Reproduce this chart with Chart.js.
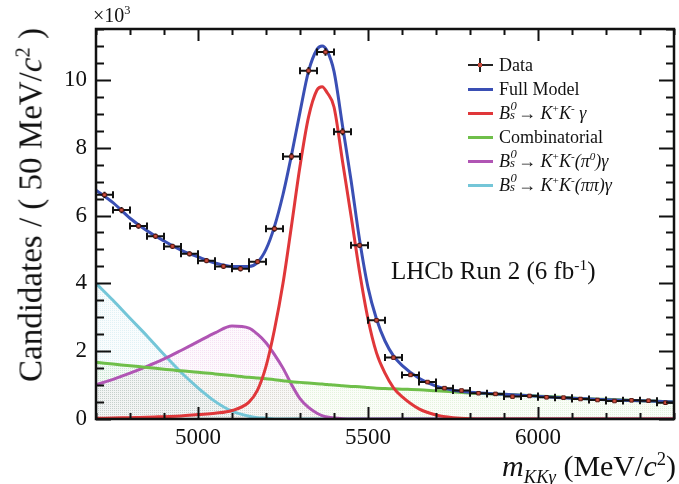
<!DOCTYPE html>
<html>
<head>
<meta charset="utf-8">
<script src="https://cdn.jsdelivr.net/npm/chart.js@4.4.0/dist/chart.umd.min.js"></script>
<style>
  html, body { margin: 0; padding: 0; background: #fff; }
  #wrap { position: relative; width: 679px; height: 484px; font-family: "Liberation Serif", "Times New Roman", serif; color: #111; }
  #chart { position: absolute; left: 0; top: 0; }
  .lbl { position: absolute; white-space: nowrap; line-height: 1; }
  .lbl sup, .lbl sub, .row sup { font-size: 0.62em; line-height: 0; }
  .legend { position: absolute; left: 466px; top: 53px; font-size: 18px; }
  .row { position: absolute; left: 0; height: 24px; white-space: nowrap; line-height: 24px; }
  .row .s { position: absolute; left: 2px; top: 11px; width: 25px; height: 3px; }
  .row .t { position: absolute; left: 33px; top: 0; }
  .cross-h { position: absolute; left: 2px; top: 11px; width: 25px; height: 2px; background: #222; }
  .cross-v { position: absolute; left: 13px; top: 5px; width: 2px; height: 14px; background: #222; }
  .cross-d { position: absolute; left: 12px; top: 10px; width: 4px; height: 4px; background: #c84a3c; }
  .ss { display: inline-block; position: relative; width: 0.45em; height: 1em; font-style: italic; line-height: 1; }
  .ss .u { position: absolute; left: 0.03em; top: -0.12em; font-size: 0.7em; line-height: 1; }
  .ss .d { position: absolute; left: 0; top: 0.6em; font-size: 0.7em; line-height: 1; }
</style>
</head>
<body>
<div id="wrap">
  <canvas id="chart" width="679" height="484"></canvas>

  <div class="lbl" style="left:93px; top:5px; font-size:20px;">&times;10<sup>3</sup></div>

  <div class="lbl" style="left:31px; top:205px; font-size:33px; transform: translate(-50%, -50%) rotate(-90deg);">Candidates / ( 50 MeV/<i>c</i><sup>2</sup> )</div>

  <div class="lbl" style="right:3px; top:451px; font-size:30px;"><i>m</i><sub><i>KK&gamma;</i></sub> (MeV/<i>c</i><sup>2</sup>)</div>

  <div class="lbl" style="left:391px; top:258px; font-size:25px;">LHCb Run 2 (6 fb<sup>-1</sup>)</div>

  <div class="legend">
    <div class="row" style="top:0px;"><span class="cross-h"></span><span class="cross-v"></span><span class="cross-d"></span><span class="t">Data</span></div>
    <div class="row" style="top:24px;"><span class="s" style="background:#3a4fb4;"></span><span class="t">Full Model</span></div>
    <div class="row" style="top:48px;"><span class="s" style="background:#e0373a;"></span><span class="t"><i>B</i><span class="ss"><span class="u">0</span><span class="d">s</span></span>&rarr; <i>K</i><sup>+</sup><i>K</i><sup>-</sup> <i>&gamma;</i></span></div>
    <div class="row" style="top:72px;"><span class="s" style="background:#6fbf4a;"></span><span class="t">Combinatorial</span></div>
    <div class="row" style="top:96px;"><span class="s" style="background:#b055b4;"></span><span class="t"><i>B</i><span class="ss"><span class="u">0</span><span class="d">s</span></span>&rarr; <i>K</i><sup>+</sup><i>K</i><sup>-</sup><i>(&pi;<sup>0</sup>)&gamma;</i></span></div>
    <div class="row" style="top:120px;"><span class="s" style="background:#74c6d8;"></span><span class="t"><i>B</i><span class="ss"><span class="u">0</span><span class="d">s</span></span>&rarr; <i>K</i><sup>+</sup><i>K</i><sup>-</sup><i>(&pi;&pi;)&gamma;</i></span></div>
  </div>
</div>

<script>
// data points, 50 MeV bins (counts in units of 10^3)
const binCenters = [4725, 4775, 4825, 4875, 4925, 4975, 5025, 5075, 5125, 5175,
  5225, 5275, 5325, 5375, 5425, 5475, 5525, 5575, 5625, 5675,
  5725, 5775, 5825, 5875, 5925, 5975, 6025, 6075, 6125, 6175,
  6225, 6275, 6325, 6375];
const dataCounts = [6.61, 6.16, 5.69, 5.39, 5.09, 4.87, 4.67, 4.50, 4.43, 4.64,
  5.61, 7.74, 10.27, 10.82, 8.47, 5.12, 2.91, 1.81, 1.30, 1.09,
  0.91, 0.84, 0.76, 0.74, 0.66, 0.68, 0.64, 0.63, 0.59, 0.56,
  0.53, 0.55, 0.54, 0.48];
const dataErr = [0.09, 0.09, 0.08, 0.08, 0.08, 0.08, 0.08, 0.08, 0.08, 0.08,
  0.09, 0.10, 0.11, 0.11, 0.10, 0.08, 0.06, 0.05, 0.04, 0.04,
  0.04, 0.04, 0.03, 0.03, 0.03, 0.03, 0.03, 0.03, 0.03, 0.03,
  0.03, 0.03, 0.03, 0.03];
const binHalfWidth = 25;

// fit curves sampled at these masses
const curveMass = [4700, 4750, 4800, 4850, 4900, 4950, 5000, 5050, 5100, 5150,
  5175, 5200, 5225, 5250, 5275, 5300, 5325, 5350, 5365, 5380,
  5400, 5425, 5450, 5475, 5500, 5525, 5550, 5575, 5600, 5650,
  5700, 5750, 5800, 5900, 6000, 6100, 6200, 6300, 6400];
const fullModel = [6.75, 6.38, 5.92, 5.55, 5.25, 4.98, 4.78, 4.60, 4.50, 4.50,
  4.62, 5.00, 5.68, 6.62, 7.78, 9.05, 10.25, 10.90, 11.00, 10.85,
  10.25, 8.65, 7.05, 5.30, 3.88, 2.95, 2.30, 1.86, 1.58, 1.20,
  0.97, 0.85, 0.79, 0.73, 0.67, 0.61, 0.57, 0.54, 0.50];
const signalKKg = [0.02, 0.03, 0.04, 0.05, 0.07, 0.09, 0.13, 0.17, 0.25, 0.50,
  0.85, 1.55, 2.64, 4.00, 5.70, 7.45, 8.90, 9.70, 9.80, 9.62,
  9.20, 7.60, 6.00, 4.35, 2.95, 1.95, 1.35, 0.92, 0.66, 0.30,
  0.12, 0.04, 0.01, 0, 0, 0, 0, 0, 0];
const combinatorial = [1.67, 1.62, 1.57, 1.52, 1.47, 1.42, 1.38, 1.33, 1.28, 1.23,
  1.21, 1.19, 1.16, 1.13, 1.10, 1.08, 1.06, 1.04, 1.03, 1.02,
  1.00, 0.98, 0.96, 0.95, 0.93, 0.91, 0.90, 0.89, 0.88, 0.86,
  0.83, 0.80, 0.77, 0.73, 0.68, 0.62, 0.58, 0.54, 0.50];
const pi0Bkg = [1.01, 1.17, 1.35, 1.55, 1.77, 2.02, 2.28, 2.54, 2.74, 2.68,
  2.50, 2.25, 1.90, 1.50, 1.02, 0.60, 0.34, 0.17, 0.10, 0.06,
  0.03, 0.01, 0, 0, 0, 0, 0, 0, 0, 0,
  0, 0, 0, 0, 0, 0, 0, 0, 0];
const pipiBkg = [4.00, 3.50, 2.97, 2.45, 1.90, 1.38, 0.92, 0.52, 0.23, 0.08,
  0.04, 0.02, 0, 0, 0, 0, 0, 0, 0, 0,
  0, 0, 0, 0, 0, 0, 0, 0, 0, 0,
  0, 0, 0, 0, 0, 0, 0, 0, 0];

const xMajorTicks = [5000, 5500, 6000];
const yMajorTicks = [0, 2, 4, 6, 8, 10];

const FONT = '"Liberation Serif", "Times New Roman", serif';

// light dotted fill, close to ROOT's pattern fills
function dotPattern(r, g, b) {
  const c = document.createElement("canvas");
  c.width = 2; c.height = 2;
  const x = c.getContext("2d");
  x.fillStyle = `rgba(${r},${g},${b},0.035)`;
  x.fillRect(0, 0, 2, 2);
  x.fillStyle = `rgba(${r},${g},${b},0.15)`;
  x.fillRect(0, 0, 1, 1);
  return x.createPattern(c, "repeat");
}

function toPoints(ys) {
  return curveMass.map((m, i) => ({ x: m, y: ys[i] }));
}

function curve(label, ys, color, order) {
  return {
    label: label,
    data: toPoints(ys),
    borderColor: color,
    borderWidth: 3,
    pointRadius: 0,
    cubicInterpolationMode: "monotone",
    fill: false,
    order: order,
  };
}

// shaded area under a component, drawn below every line
function area(ys, pattern, order) {
  return {
    data: toPoints(ys),
    borderWidth: 0,
    borderColor: "transparent",
    pointRadius: 0,
    cubicInterpolationMode: "monotone",
    fill: "origin",
    backgroundColor: pattern,
    order: order,
  };
}

// ROOT-style frame with inward major/minor ticks
const frameTicks = {
  id: "frameTicks",
  afterDatasetsDraw(chart) {
    const { ctx, chartArea: a, scales } = chart;
    const xs = scales.x, ys = scales.y;
    ctx.save();
    ctx.strokeStyle = "#111";
    ctx.lineWidth = 2;
    ctx.beginPath();
    for (let v = 4700; v <= 6400; v += 100) {
      const px = Math.round(xs.getPixelForValue(v)) + 0.5;
      const len = v % 500 === 0 ? 12 : 6;
      ctx.moveTo(px, a.bottom); ctx.lineTo(px, a.bottom - len);
      ctx.moveTo(px, a.top); ctx.lineTo(px, a.top + len);
    }
    for (let v = 0; v <= 11.5; v += 0.5) {
      const py = Math.round(ys.getPixelForValue(v)) + 0.5;
      const len = v % 2 === 0 ? 15 : 8;
      ctx.moveTo(a.left, py); ctx.lineTo(a.left + len, py);
      ctx.moveTo(a.right, py); ctx.lineTo(a.right - len, py);
    }
    ctx.stroke();
    ctx.lineWidth = 2.5;
    ctx.strokeRect(a.left, a.top, a.right - a.left, a.bottom - a.top);
    ctx.restore();
  },
};

// horizontal bin-width bars and vertical errors under the data markers
const errorBars = {
  id: "errorBars",
  beforeDatasetDraw(chart, args) {
    if (args.index !== 0) return;
    const { ctx, scales } = chart;
    ctx.save();
    ctx.strokeStyle = "#111";
    ctx.lineWidth = 2;
    ctx.beginPath();
    binCenters.forEach((m, i) => {
      const x0 = scales.x.getPixelForValue(m - binHalfWidth);
      const x1 = scales.x.getPixelForValue(m + binHalfWidth);
      const xc = scales.x.getPixelForValue(m);
      const y = scales.y.getPixelForValue(dataCounts[i]);
      const yl = scales.y.getPixelForValue(dataCounts[i] - dataErr[i]);
      const yh = scales.y.getPixelForValue(dataCounts[i] + dataErr[i]);
      ctx.moveTo(x0, y); ctx.lineTo(x1, y);
      ctx.moveTo(x0, y - 3.5); ctx.lineTo(x0, y + 3.5);
      ctx.moveTo(x1, y - 3.5); ctx.lineTo(x1, y + 3.5);
      ctx.moveTo(xc, yh); ctx.lineTo(xc, yl);
    });
    ctx.stroke();
    ctx.restore();
  },
};

const ctx = document.getElementById("chart").getContext("2d");
new Chart(ctx, {
  type: "line",
  data: {
    datasets: [
      {
        label: "Data",
        data: binCenters.map((m, i) => ({ x: m, y: dataCounts[i] })),
        showLine: false,
        pointStyle: "rect",
        pointRadius: 2.5,
        pointBackgroundColor: "#d2503f",
        pointBorderColor: "#5a1a14",
        pointBorderWidth: 1,
        order: 0,
      },
      curve("Full Model", fullModel, "#3a4fb4", 1),
      curve("Bs -> K+K- gamma", signalKKg, "#e0373a", 2),
      curve("Combinatorial", combinatorial, "#6fbf4a", 3),
      curve("Bs -> K+K-(pi0) gamma", pi0Bkg, "#b055b4", 4),
      curve("Bs -> K+K-(pipi) gamma", pipiBkg, "#74c6d8", 5),
      area(combinatorial, dotPattern(100, 185, 70), 10),
      area(pi0Bkg, dotPattern(200, 90, 190), 11),
      area(pipiBkg, dotPattern(80, 175, 200), 12),
    ],
  },
  options: {
    responsive: false,
    animation: false,
    layout: { padding: { top: 29, right: 2, left: 0, bottom: 0 } },
    plugins: { legend: { display: false }, tooltip: { enabled: false } },
    scales: {
      x: {
        type: "linear",
        min: 4700,
        max: 6400,
        afterBuildTicks: (s) => { s.ticks = xMajorTicks.map((v) => ({ value: v })); },
        afterFit: (s) => { s.height = 65; },
        ticks: { font: { family: FONT, size: 23 }, color: "#111", padding: 5, maxRotation: 0, callback: (v) => String(v) },
        grid: { display: false, drawTicks: false },
        border: { display: false },
      },
      y: {
        min: 0,
        max: 11.5,
        afterBuildTicks: (s) => { s.ticks = yMajorTicks.map((v) => ({ value: v })); },
        afterFit: (s) => { s.width = 96; },
        ticks: { font: { family: FONT, size: 23 }, color: "#111", padding: 9, callback: (v) => String(v) },
        grid: { display: false, drawTicks: false },
        border: { display: false },
      },
    },
  },
  plugins: [errorBars, frameTicks],
});
</script>
</body>
</html>
